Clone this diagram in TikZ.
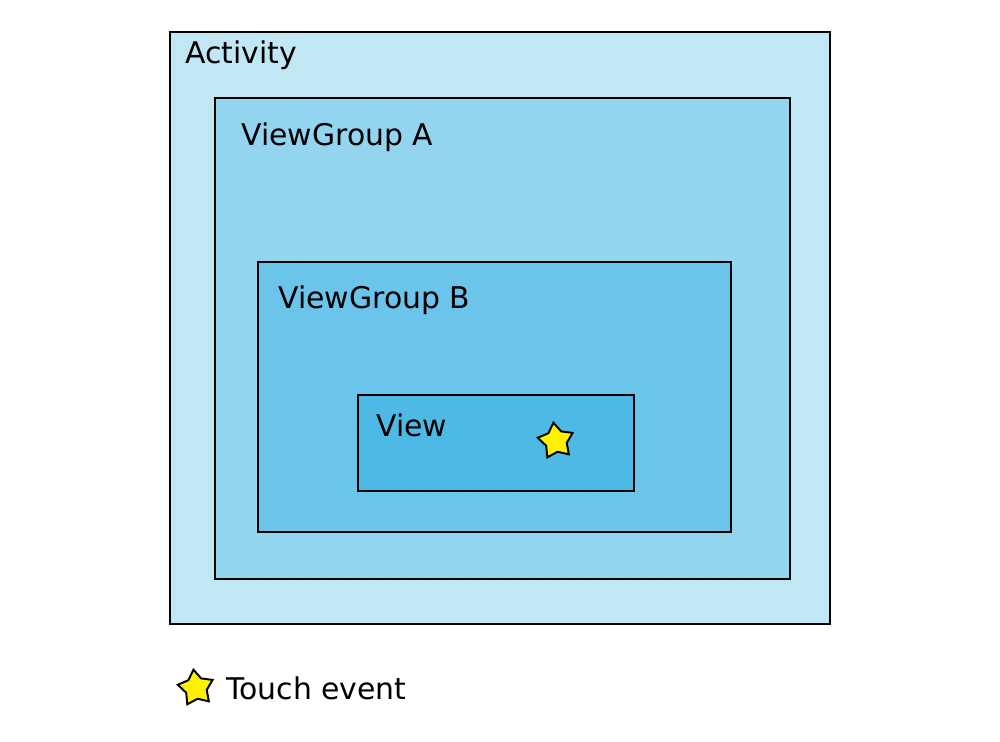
\documentclass[tikz,border=0pt]{standalone}
\usepackage{fontspec}
\setmainfont{DejaVu Sans}
\usetikzlibrary{positioning, shapes.geometric}
\definecolor{actblue}{HTML}{C1E6F4}
\definecolor{groupablue}{HTML}{93D5EF}
\definecolor{groupbblue}{HTML}{6BC4EA}
\definecolor{viewblue}{HTML}{4FB9E6}
\begin{document}
\begin{tikzpicture}[x=0.02cm,y=-0.02cm]
	\tikzstyle{box}=[draw=black,line width=1.4pt]
	\tikzstyle{label}=[anchor=west,font=\fontsize{17}{20}\selectfont,inner sep=0pt]
	\tikzstyle{touch}=[star,star points=5,star point ratio=1.7,draw=black,fill=yellow,line width=1.1pt,minimum size=0.74cm,inner sep=0pt,rotate=8]
	\useasboundingbox (0,0) rectangle (1000,742);
	\draw[box,fill=actblue] (170,32) rectangle (830,624);
	\draw[box,fill=groupablue] (215,98) rectangle (790,579);
	\draw[box,fill=groupbblue] (258,262) rectangle (731,532);
	\draw[box,fill=viewblue] (358,395) rectangle (634,491);
	\node[label](activity) at (185,55) {Activity};
	\node[label](groupa) at (241,137) {ViewGroup A};
	\node[label](groupb) at (278,300) {ViewGroup B};
	\node[label](view) at (376,425) {View};
	\node[touch](event) at (556,441) {};
	\node[touch](legendstar) at (196,688) {};
	\node[label](legend) at (226,688) {Touch event};
\end{tikzpicture}
\end{document}
